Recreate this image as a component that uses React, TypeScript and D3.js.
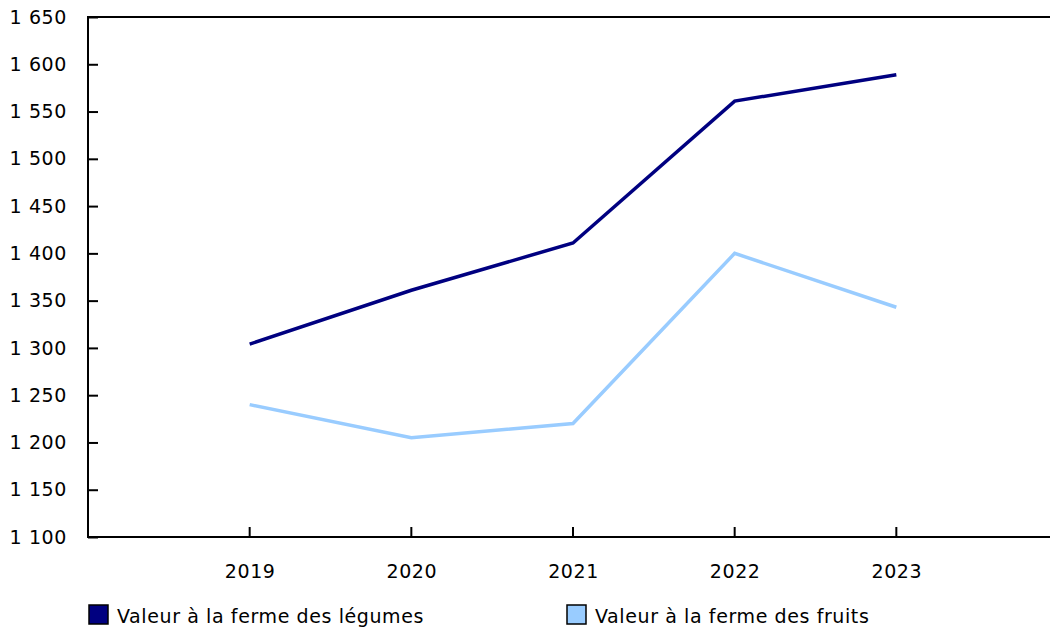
import * as d3 from "d3";
import { useEffect, useRef } from "react";

const years = ["2019", "2020", "2021", "2022", "2023"];
const legumes = [1304, 1361, 1411, 1561, 1589];
const fruits = [1240, 1205, 1220, 1400, 1343];
const yTicks = [1100, 1150, 1200, 1250, 1300, 1350, 1400, 1450, 1500, 1550, 1600, 1650];
const seriesNames = ["Valeur à la ferme des légumes", "Valeur à la ferme des fruits"];
const seriesColors = ["#000080", "#99ccff"];

const width = 1050;
const height = 628;
const marginLeft = 88;
const marginTop = 17;
const plotBottom = 537;
const font = "Verdana, 'DejaVu Sans', sans-serif";
const fontSize = 19;
const spacing = 0.6;

const locale = d3.formatLocale({ decimal: ",", thousands: " ", grouping: [3], currency: ["", "$"] });
const fmt = locale.format(",d");

export default function App() {
  const gx = useRef<SVGGElement>(null);
  const gy = useRef<SVGGElement>(null);

  const x = d3.scalePoint(years, [marginLeft, 1058]).padding(1);
  const y = d3.scaleLinear([1100, 1650], [plotBottom, marginTop]);
  const line = d3.line<number>((d, i) => x(years[i]) as number, (d) => y(d));

  useEffect(() => {
    const ax = d3.select(gx.current!);
    ax.call(d3.axisBottom(x).tickSize(0).tickPadding(0) as any);
    ax.select(".domain").remove();
    ax.selectAll("text")
      .attr("y", 41)
      .attr("dy", 0)
      .attr("font-family", font)
      .attr("font-size", fontSize)
      .attr("letter-spacing", spacing)
      .attr("fill", "#000");

    const ay = d3.select(gy.current!);
    ay.call(d3.axisLeft(y).tickValues(yTicks).tickFormat((d) => fmt(d as number)).tickSize(-10).tickPadding(21) as any);
    ay.select(".domain").remove();
    ay.selectAll("line").attr("stroke", "#000").attr("stroke-width", 2);
    ay.selectAll("text")
      .attr("font-family", font)
      .attr("font-size", fontSize)
      .attr("letter-spacing", spacing)
      .attr("fill", "#000");
  }, []);

  return (
    <svg width={width} height={height} style={{ position: "absolute", left: 0, top: 0 }}>
      {/* top border */}
      <line x1={marginLeft} x2={width} y1={y(1650)} y2={y(1650)} stroke="#000" strokeWidth={2} />
      <g ref={gy} transform={`translate(${marginLeft},0)`} />
      <g ref={gx} transform={`translate(0,${plotBottom})`} />
      {/* x ticks pointing up */}
      {years.map((yr) => (
        <line key={yr} x1={x(yr)} x2={x(yr)} y1={plotBottom} y2={plotBottom - 10} stroke="#000" strokeWidth={2} />
      ))}
      {[legumes, fruits].map((s, i) => (
        <path key={i} d={line(s) as string} fill="none" stroke={seriesColors[i]} strokeWidth={3.5} />
      ))}
      {/* axes lines */}
      <line x1={marginLeft} x2={marginLeft} y1={marginTop - 1} y2={plotBottom + 1} stroke="#000" strokeWidth={2} />
      <line x1={marginLeft - 1} x2={width} y1={plotBottom} y2={plotBottom} stroke="#000" strokeWidth={2} />
      {seriesNames.map((name, i) => {
        const lx = i === 0 ? 88 : 566;
        return (
          <g key={name} transform={`translate(${lx},604)`}>
            <rect x={1} y={1} width={19} height={19} fill={seriesColors[i]} stroke="#000" strokeWidth={1.5} />
            <text x={29} y={18.5} fontFamily={font} fontSize={fontSize} letterSpacing={spacing} fill="#000">
              {name}
            </text>
          </g>
        );
      })}
    </svg>
  );
}
